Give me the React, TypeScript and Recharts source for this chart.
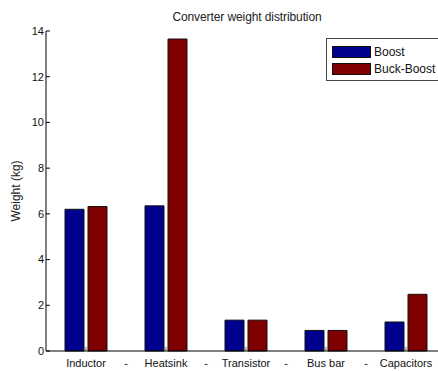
import React from 'react';
import { BarChart, Bar, XAxis, YAxis, Legend } from 'recharts';

const categories = ['Inductor', 'Heatsink', 'Transistor', 'Bus bar', 'Capacitors'];
const boost = [6.2, 6.35, 1.35, 0.9, 1.27];
const buckBoost = [6.32, 13.65, 1.35, 0.9, 2.48];
const yTicks = [0, 2, 4, 6, 8, 10, 12, 14];

const data = categories.map((name, i) => ({ name, boost: boost[i], buckBoost: buckBoost[i] }));

const FONT = '"Liberation Sans", Arial, sans-serif';

const CategoryTick = (props: any) => {
  const { x, y, payload, index } = props;
  return (
    <g>
      <text x={x} y={y} dy="0.71em" textAnchor="middle" fontSize={11} fill="#111" fontFamily={FONT}>
        {payload.value}
      </text>
      {index < categories.length - 1 && (
        <text x={x + 40} y={y} dy="0.71em" textAnchor="middle" fontSize={11} fill="#111" fontFamily={FONT}>
          -
        </text>
      )}
    </g>
  );
};

const LegendBox = (props: any) => {
  const items = props.payload || [];
  return (
    <div style={{ border: '1px solid #444', background: '#fff', width: 118, padding: '4px 5px 3px 5px', fontFamily: FONT, fontSize: 12 }}>
      {items.map((it: any) => (
        <div key={it.value} style={{ display: 'flex', alignItems: 'center', height: 17 }}>
          <span style={{ display: 'inline-block', width: 37, height: 10, background: it.color, border: '1px solid #111', marginRight: 3 }} />
          <span style={{ color: '#111' }}>{it.value}</span>
        </div>
      ))}
    </div>
  );
};

export default function App() {
  return (
    <div style={{ position: 'absolute', left: 0, top: 0, width: 438, height: 371, overflow: 'hidden', background: '#fff' }}>
      <div style={{ position: 'absolute', top: 10, left: 0, width: 494, textAlign: 'center', fontFamily: FONT, fontSize: 12, lineHeight: '14px', color: '#222', letterSpacing: -0.1 }}>
        Converter weight distribution
      </div>
      <BarChart
        width={470}
        height={390}
        data={data}
        margin={{ top: 31, right: 24, left: 0, bottom: 9 }}
        barGap={4}
        barSize={19}
      >
        <XAxis
          dataKey="name"
          tickSize={-4}
          tickMargin={12}
          interval={0}
          axisLine={{ stroke: '#000' }}
          tickLine={{ stroke: '#666' }}
          tick={<CategoryTick />}
          height={30}
        />
        <XAxis
          xAxisId="top"
          orientation="top"
          dataKey="name"
          height={0}
          tickSize={-4}
          tickFormatter={() => ''}
          axisLine={{ stroke: '#000' }}
          tickLine={{ stroke: '#000' }}
        />
        <YAxis
          domain={[0, 14]}
          ticks={yTicks}
          width={46}
          tickSize={-4}
          tickMargin={6}
          axisLine={{ stroke: '#000' }}
          tickLine={{ stroke: '#000' }}
          tick={{ fill: '#111', fontSize: 11, fontFamily: FONT }}
          label={{ value: 'Weight (kg)', angle: -90, position: 'insideLeft', offset: 16, textAnchor: 'middle', style: { fill: '#222', fontSize: 12, fontFamily: FONT, textAnchor: 'middle' } }}
        />
        <Legend
          content={<LegendBox />}
          layout="vertical"
          align="center"
          verticalAlign="middle"
          wrapperStyle={{ position: 'absolute', left: 326, top: 38, width: 130 }}
        />
        <Bar dataKey="boost" name="Boost" fill="#00008f" stroke="#111" strokeWidth={1} isAnimationActive={false} />
        <Bar dataKey="buckBoost" name="Buck-Boost" fill="#800000" stroke="#111" strokeWidth={1} isAnimationActive={false} />
      </BarChart>
    </div>
  );
}
